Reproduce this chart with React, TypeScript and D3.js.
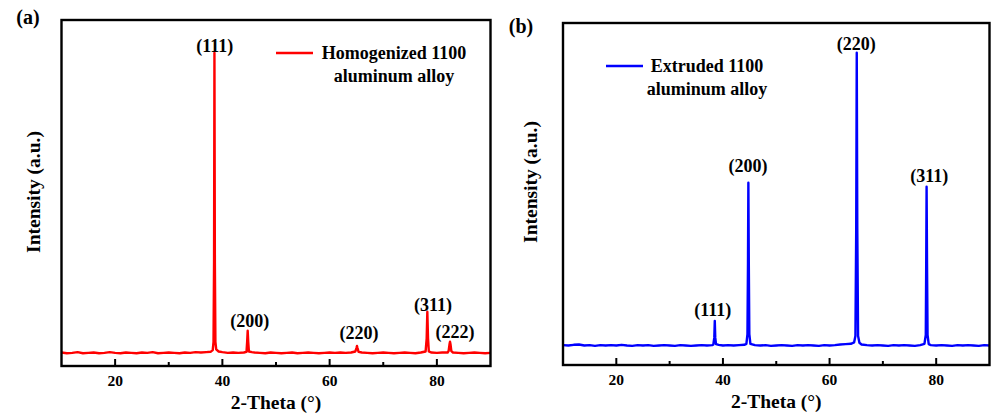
import React from "react";
import * as d3 from "d3";

// ---- Data (2θ in degrees, intensity in arbitrary units) ----
const homogenized: [number, number][] = [
  [10, 39], [11, 37], [12, 38], [13, 40], [14, 37], [15, 38], [16, 39], [17, 37], [18, 38], [19, 40],
  [20, 38], [21, 37], [22, 39], [23, 38], [24, 37], [25, 39], [26, 38], [27, 40], [28, 37], [29, 38],
  [30, 39], [31, 38], [32, 37], [33, 39], [34, 38], [35, 40], [36, 39], [37, 40], [37.8, 41],
  [38.2, 46], [38.35, 70], [38.45, 300], [38.52, 905], [38.6, 300], [38.7, 70], [38.85, 48], [39.3, 42],
  [40, 40], [41, 38], [42, 39], [43, 38], [44, 39], [44.5, 41], [44.62, 70], [44.72, 102], [44.82, 70],
  [44.95, 42], [45.5, 40], [46, 39], [47, 38], [48, 37], [49, 39], [50, 38], [51, 37], [52, 38], [53, 39],
  [54, 37], [55, 38], [56, 39], [57, 38], [58, 37], [59, 38], [60, 39], [61, 38], [62, 39], [63, 38],
  [64, 39], [64.8, 42], [65.0, 52], [65.1, 58], [65.2, 52], [65.4, 41], [66, 39], [67, 38], [68, 37],
  [69, 38], [70, 39], [71, 38], [72, 37], [73, 38], [74, 39], [75, 38], [76, 37], [77, 39], [77.9, 42],
  [78.1, 80], [78.22, 157], [78.35, 80], [78.5, 42], [79, 39], [80, 38], [81, 39], [82, 39], [82.2, 44],
  [82.35, 62], [82.45, 70], [82.55, 62], [82.7, 43], [83, 39], [84, 38], [85, 37], [86, 38], [87, 39],
  [88, 38], [89, 37], [90, 38],
];

const extruded: [number, number][] = [
  [10, 58], [11, 57], [12, 59], [13, 60], [14, 57], [15, 58], [16, 56], [17, 58], [18, 57], [19, 58],
  [20, 57], [21, 59], [22, 57], [23, 56], [24, 58], [25, 57], [26, 58], [27, 56], [28, 57], [29, 58],
  [30, 57], [31, 56], [32, 58], [33, 57], [34, 56], [35, 57], [36, 58], [37, 57], [38, 58],
  [38.2, 60], [38.38, 80], [38.47, 129], [38.56, 80], [38.7, 61], [39.2, 59], [40, 57], [41, 58],
  [42, 57], [43, 58], [44, 59], [44.4, 62], [44.6, 90], [44.7, 300], [44.77, 533], [44.85, 300],
  [44.95, 90], [45.15, 62], [46, 58], [47, 57], [48, 58], [49, 56], [50, 57], [51, 58], [52, 57],
  [53, 56], [54, 58], [55, 57], [56, 58], [57, 57], [58, 56], [59, 58], [60, 57], [61, 58], [62, 60],
  [63, 61], [64, 62], [64.6, 66], [64.85, 85], [65.0, 400], [65.1, 913], [65.2, 400], [65.35, 85],
  [65.6, 65], [66, 60], [67, 58], [68, 57], [69, 58], [70, 57], [71, 56], [72, 58], [73, 57], [74, 58],
  [75, 57], [76, 56], [77, 58], [77.8, 62], [78.05, 88], [78.13, 300], [78.2, 521], [78.28, 300],
  [78.38, 88], [78.6, 61], [79, 58], [80, 57], [81, 58], [82, 57], [83, 56], [84, 58], [85, 57],
  [86, 58], [87, 57], [88, 56], [89, 58], [90, 57],
];

const peakLabelsA: { text: string; x: number; y: number }[] = [
  { text: "(111)", x: 38.56, y: 908 },
  { text: "(200)", x: 45.1, y: 113 },
  { text: "(220)", x: 65.5, y: 78 },
  { text: "(311)", x: 79.3, y: 160 },
  { text: "(222)", x: 83.4, y: 80 },
];

const peakLabelsB: { text: string; x: number; y: number }[] = [
  { text: "(111)", x: 38.1, y: 144 },
  { text: "(200)", x: 44.7, y: 564 },
  { text: "(220)", x: 65.0, y: 921 },
  { text: "(311)", x: 78.7, y: 535 },
];

const xDomain: [number, number] = [10, 90];
const yDomain: [number, number] = [0, 1000];
const xTickValues = [10, 20, 30, 40, 50, 60, 70, 80, 90];
const majorTickLabels = ["20", "40", "60", "80"];

const legendA = ["Homogenized 1100", "aluminum alloy"];
const legendB = ["Extruded 1100", "aluminum alloy"];

const FONT = "'Liberation Serif', 'Times New Roman', serif";

type PanelProps = {
  data: [number, number][];
  labels: { text: string; x: number; y: number }[];
  color: string;
  left: number;
  right: number;
  top: number;
  bottom: number;
  panelLetter: string;
  letterX: number;
  letterY: number;
  legend: string[];
  legendLineX: [number, number];
  legendY: number;
  legendTextX: number;
  yTitleX: number;
  yTitleY: number;
};

function Panel(p: PanelProps) {
  const x = d3.scaleLinear().domain(xDomain).range([p.left, p.right]);
  const y = d3.scaleLinear().domain(yDomain).range([p.bottom, p.top]);
  const line = d3
    .line<[number, number]>()
    .x((d) => x(d[0]))
    .y((d) => y(d[1]));
  const inner = xTickValues.filter((t) => t > xDomain[0] && t < xDomain[1]);
  const majors = inner.filter((t) => majorTickLabels.includes(String(t)));
  const minors = inner.filter((t) => !majorTickLabels.includes(String(t)));
  const cx = (p.left + p.right) / 2;
  return (
    <g fontFamily={FONT} fontWeight="bold" fill="#000">
      <text x={p.letterX} y={p.letterY} fontSize={20} textAnchor="middle">
        {p.panelLetter}
      </text>
      <path d={line(p.data) || ""} fill="none" stroke={p.color} strokeWidth={2.4} strokeLinejoin="round" />
      {majors.map((t) => (
        <line key={"M" + t} x1={x(t)} x2={x(t)} y1={p.bottom} y2={p.bottom - 7} stroke="#000" strokeWidth={2} />
      ))}
      {minors.map((t) => (
        <line key={"m" + t} x1={x(t)} x2={x(t)} y1={p.bottom} y2={p.bottom - 4} stroke="#000" strokeWidth={2} />
      ))}
      {majors.map((t) => (
        <text key={"l" + t} x={x(t)} y={p.bottom + 20} fontSize={15.5} textAnchor="middle">
          {String(t)}
        </text>
      ))}
      <rect
        x={p.left}
        y={p.top}
        width={p.right - p.left}
        height={p.bottom - p.top}
        fill="none"
        stroke="#000"
        strokeWidth={2.4}
      />
      <text x={cx} y={p.bottom + 43} fontSize={19.5} textAnchor="middle">
        2-Theta (°)
      </text>
      <text
        transform={`translate(${p.yTitleX},${p.yTitleY}) rotate(-90)`}
        fontSize={19.5}
        textAnchor="middle"
      >
        Intensity (a.u.)
      </text>
      {p.labels.map((l) => (
        <text key={l.text} x={x(l.x)} y={y(l.y)} fontSize={18} textAnchor="middle">
          {l.text}
        </text>
      ))}
      <line
        x1={p.legendLineX[0]}
        x2={p.legendLineX[1]}
        y1={p.legendY}
        y2={p.legendY}
        stroke={p.color}
        strokeWidth={2.5}
      />
      {p.legend.map((s, i) => (
        <text key={s} x={p.legendTextX} y={p.legendY + 6 + i * 23} fontSize={18} textAnchor="middle">
          {s}
        </text>
      ))}
    </g>
  );
}

export default function App() {
  return (
    <svg
      width={992}
      height={419}
      viewBox="0 0 992 419"
      style={{ position: "absolute", left: 0, top: 0, background: "#fff" }}
    >
      <rect width={992} height={419} fill="#fff" />
      <Panel
        data={homogenized}
        labels={peakLabelsA}
        color="#ff0000"
        left={61.5}
        right={490.5}
        top={20}
        bottom={366}
        panelLetter="(a)"
        letterX={28}
        letterY={24}
        legend={legendA}
        legendLineX={[276, 313]}
        legendY={53}
        legendTextX={394}
        yTitleX={40}
        yTitleY={192}
      />
      <Panel
        data={extruded}
        labels={peakLabelsB}
        color="#0000ff"
        left={563}
        right={989.5}
        top={23}
        bottom={365}
        panelLetter="(b)"
        letterX={521}
        letterY={33}
        legend={legendB}
        legendLineX={[606, 643]}
        legendY={66}
        legendTextX={707}
        yTitleX={537}
        yTitleY={182}
      />
    </svg>
  );
}
